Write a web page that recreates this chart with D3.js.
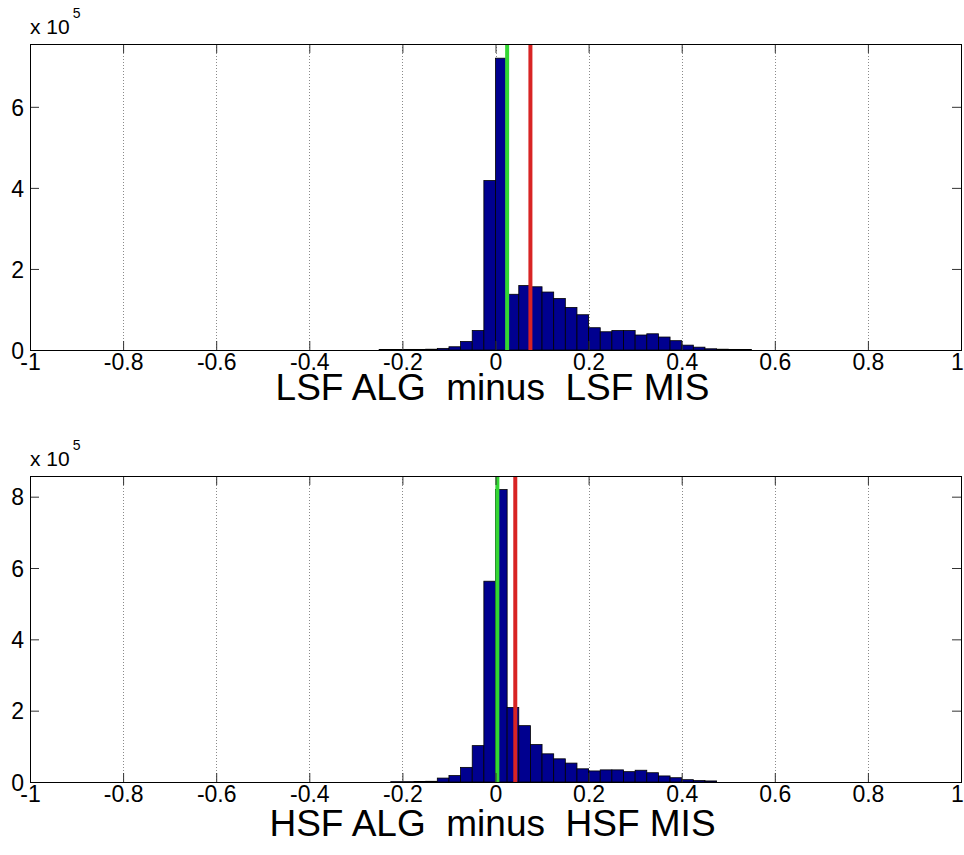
<!DOCTYPE html>
<html>
<head>
<meta charset="utf-8">
<script src="https://cdn.jsdelivr.net/npm/d3@7"></script>
<style>
  html, body { margin: 0; padding: 0; background: #fff; }
  svg { display: block; }
  text { font-family: "Liberation Sans", Arial, Helvetica, sans-serif; fill: #000; }
</style>
</head>
<body>
<svg id="chart" width="964" height="855"></svg>
<script>
// Histogram bins: width 0.025, each value is the count in units of 10^5
const binWidth = 0.025;

const lsfBinStarts = [-0.25, -0.225, -0.2, -0.175, -0.15, -0.125, -0.1, -0.075, -0.05, -0.025,
  0, 0.025, 0.05, 0.075, 0.1, 0.125, 0.15, 0.175, 0.2, 0.225, 0.25, 0.275, 0.3, 0.325, 0.35,
  0.375, 0.4, 0.425, 0.45, 0.475, 0.5, 0.525];
const lsfCounts = [0.01, 0.01, 0.015, 0.015, 0.02, 0.04, 0.08, 0.21, 0.48, 4.18,
  7.20, 1.375, 1.59, 1.56, 1.43, 1.27, 1.05, 0.87, 0.55, 0.45, 0.48, 0.48, 0.37, 0.40, 0.32,
  0.23, 0.12, 0.07, 0.03, 0.02, 0.015, 0.01];

const hsfBinStarts = [-0.225, -0.2, -0.175, -0.15, -0.125, -0.1, -0.075, -0.05, -0.025,
  0, 0.025, 0.05, 0.075, 0.1, 0.125, 0.15, 0.175, 0.2, 0.225, 0.25, 0.275, 0.3, 0.325, 0.35,
  0.375, 0.4, 0.425, 0.45];
const hsfCounts = [0.01, 0.01, 0.015, 0.02, 0.11, 0.18, 0.41, 1.02, 5.63,
  8.20, 2.09, 1.58, 1.05, 0.79, 0.65, 0.53, 0.37, 0.31, 0.34, 0.34, 0.29, 0.33, 0.26, 0.17,
  0.12, 0.065, 0.04, 0.03];

// Reference lines (green and red) for each panel
const lsfMarkers = [0.025, 0.075];
const hsfMarkers = [0.004, 0.0425];

const xTicks = [-1, -0.8, -0.6, -0.4, -0.2, 0, 0.2, 0.4, 0.6, 0.8, 1];
const xTickLabels = ["-1", "-0.8", "-0.6", "-0.4", "-0.2", "0", "0.2", "0.4", "0.6", "0.8", "1"];
const lsfYTicks = [0, 2, 4, 6];
const hsfYTicks = [0, 2, 4, 6, 8];
const lsfYMax = 7.55;
const hsfYMax = 8.58;

const titles = ["LSF ALG  minus  LSF MIS", "HSF ALG  minus  HSF MIS"];

const svg = d3.select("#chart");
const barFill = "#00008f";
const markerColors = ["#33d633", "#d82424"];

function panel(cfg) {
  const { left, right, top, bottom } = cfg;
  const x = d3.scaleLinear().domain([-1, 1]).range([left, right]);
  const y = d3.scaleLinear().domain([0, cfg.yMax]).range([bottom, top]);
  const g = svg.append("g");
  const tickLen = 9;

  // dotted vertical grid at interior x ticks
  g.append("g").selectAll("line")
    .data(xTicks.filter(t => t > -1 && t < 1))
    .join("line")
    .attr("x1", d => Math.round(x(d)) + 0.5).attr("x2", d => Math.round(x(d)) + 0.5)
    .attr("y1", top).attr("y2", bottom)
    .attr("stroke", "#8a8a8a").attr("stroke-width", 1)
    .attr("stroke-dasharray", "1,2");

  // bars
  g.append("g").selectAll("rect")
    .data(cfg.starts.map((s, i) => ({ s, v: cfg.counts[i] })))
    .join("rect")
    .attr("x", d => x(d.s))
    .attr("width", d => x(d.s + binWidth) - x(d.s))
    .attr("y", d => y(d.v))
    .attr("height", d => y(0) - y(d.v))
    .attr("fill", barFill)
    .attr("stroke", "#000").attr("stroke-width", 0.8);

  // vertical marker lines
  g.append("g").selectAll("line")
    .data(cfg.markers)
    .join("line")
    .attr("x1", d => x(d)).attr("x2", d => x(d))
    .attr("y1", top).attr("y2", bottom)
    .attr("stroke", (d, i) => markerColors[i]).attr("stroke-width", 4);

  // axes with inward ticks on all sides
  const xAxisB = d3.axisBottom(x).tickValues(xTicks).tickFormat((d, i) => xTickLabels[i])
    .tickSizeInner(-tickLen).tickSizeOuter(0);
  const xAxisT = d3.axisTop(x).tickValues(xTicks).tickFormat("")
    .tickSizeInner(-tickLen).tickSizeOuter(0);
  const yAxisL = d3.axisLeft(y).tickValues(cfg.yTicks).tickFormat(d3.format("d"))
    .tickSizeInner(-tickLen).tickSizeOuter(0);
  const yAxisR = d3.axisRight(y).tickValues(cfg.yTicks).tickFormat("")
    .tickSizeInner(-tickLen).tickSizeOuter(0);

  const axes = [
    g.append("g").attr("transform", `translate(0,${bottom})`).call(xAxisB),
    g.append("g").attr("transform", `translate(0,${top})`).call(xAxisT),
    g.append("g").attr("transform", `translate(${left},0)`).call(yAxisL),
    g.append("g").attr("transform", `translate(${right},0)`).call(yAxisR)
  ];
  axes.forEach(a => {
    a.select(".domain").remove();
    a.selectAll(".tick line").attr("stroke", "#333");
    a.selectAll(".tick text").attr("font-size", 23)
      .attr("font-family", "'Liberation Sans', Arial, sans-serif").attr("fill", "#000");
  });
  axes[0].selectAll(".tick text").attr("y", 20).attr("dy", "0")
    .attr("dx", d => (d === 1 ? -4 : 0));
  axes[2].selectAll(".tick text").attr("x", -6).attr("dy", "0.36em");

  // frame
  g.append("rect")
    .attr("x", left + 0.5).attr("y", top + 0.5)
    .attr("width", right - left).attr("height", bottom - top)
    .attr("fill", "none").attr("stroke", "#000").attr("stroke-width", 1);

  // exponent label
  const ex = g.append("text").attr("x", left).attr("y", top - 10)
    .attr("font-size", 21);
  ex.append("tspan").text("x 10");
  ex.append("tspan").attr("dy", -16).attr("dx", 3).attr("font-size", 14).text("5");

  // x axis title
  g.append("text")
    .attr("x", (left + right) / 2 - 3).attr("y", cfg.titleY)
    .attr("text-anchor", "middle").attr("font-size", 37)
    .style("white-space", "pre")
    .attr("xml:space", "preserve")
    .text(cfg.title);
}

panel({ left: 30, right: 961, top: 44, bottom: 350, yMax: lsfYMax, yTicks: lsfYTicks,
  starts: lsfBinStarts, counts: lsfCounts, markers: lsfMarkers, title: titles[0], titleY: 400 });
panel({ left: 30, right: 961, top: 476, bottom: 782, yMax: hsfYMax, yTicks: hsfYTicks,
  starts: hsfBinStarts, counts: hsfCounts, markers: hsfMarkers, title: titles[1], titleY: 836 });
</script>
</body>
</html>
